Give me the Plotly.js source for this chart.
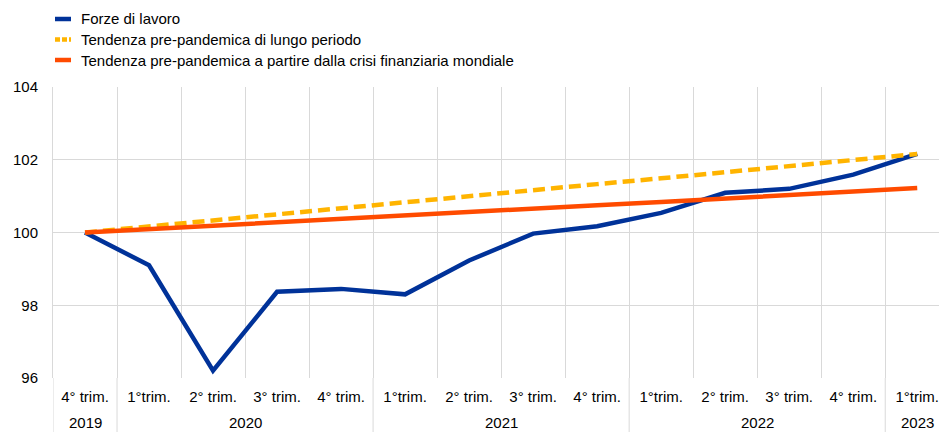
<!DOCTYPE html>
<html>
<head>
<meta charset="utf-8">
<script src="https://cdn.plot.ly/plotly-3.0.1.min.js"></script>
<style>html,body{margin:0;padding:0;background:#fff;}#chart{width:939px;height:432px;}</style>
</head>
<body>
<div id="chart"></div>
<script>
// Category labels (two-level x axis)
const years = ["2019","2020","2020","2020","2020","2021","2021","2021","2021","2022","2022","2022","2022","2023"];
const quarters = ["4° trim.","1°trim.","2° trim.","3° trim.","4° trim.","1°trim.","2° trim.","3° trim.","4° trim.","1°trim.","2° trim.","3° trim.","4° trim.","1°trim."];

// Series names
const nameLabour = "Forze di lavoro";
const nameLongTrend = "Tendenza pre-pandemica di lungo periodo";
const nameGfcTrend = "Tendenza pre-pandemica a partire dalla crisi finanziaria mondiale";

// Values (index, 2019 Q4 = 100)
const labourForce = [100.0, 99.1, 96.2, 98.37, 98.45, 98.3, 99.23, 99.97, 100.17, 100.54, 101.09, 101.2, 101.59, 102.16];
const longTrend   = [100.0, 100.17, 100.33, 100.50, 100.66, 100.83, 101.00, 101.16, 101.33, 101.49, 101.66, 101.83, 101.99, 102.16];
const gfcTrend    = [100.0, 100.09, 100.19, 100.28, 100.38, 100.47, 100.56, 100.66, 100.75, 100.84, 100.94, 101.03, 101.13, 101.22];

// Y ticks
const yTicks = [96, 98, 100, 102, 104];

// ---- derived positions (category index on the axis) ----
const idx = quarters.map((_, i) => i);
const boundaries = idx.slice(1).map(i => i - 0.5);
// year groups
const groups = [];
years.forEach((y, i) => {
  if (!groups.length || groups[groups.length - 1].year !== y) groups.push({year: y, start: i, end: i});
  else groups[groups.length - 1].end = i;
});

const W = 939, H = 432, M = {l: 53, r: 0, t: 87, b: 54};
const pw = W - M.l - M.r, ph = H - M.t - M.b;
const px2x = px => (px - M.l) / pw;
const py2y = py => (H - M.b - py) / ph;

const font = {family: "Liberation Sans, Arial, sans-serif", size: 15, color: "#000"};
const gridColor = "#d9d9d9";

const colors = {labour: "#003299", long: "#ffb400", gfc: "#ff4b00"};

const traces = [
  {x: idx, y: labourForce, name: nameLabour, type: "scatter", mode: "lines",
   line: {color: colors.labour, width: 4.5}, showlegend: false},
  {x: idx, y: longTrend, name: nameLongTrend, type: "scatter", mode: "lines",
   line: {color: colors.long, width: 4.5, dash: "12px,6px"}, showlegend: false},
  {x: idx, y: gfcTrend, name: nameGfcTrend, type: "scatter", mode: "lines",
   line: {color: colors.gfc, width: 4.5}, showlegend: false}
];

const shapes = [];
const annotations = [];

// group dividers through the label area
const divs = [-0.5].concat(groups.slice(1).map(g => g.start - 0.5));
divs.forEach(d => shapes.push({type: "line", xref: "x", yref: "paper", x0: d, x1: d,
  y0: 0, y1: py2y(H), line: {color: gridColor, width: 1}, layer: "below"}));

// year labels
groups.forEach(g => annotations.push({xref: "x", yref: "paper", x: (g.start + g.end) / 2, y: py2y(422),
  text: g.year, showarrow: false, xanchor: "center", yanchor: "middle", font: font}));

// custom legend
const legendItems = [
  {name: nameLabour, color: colors.labour, dash: "solid", py: 19},
  {name: nameLongTrend, color: colors.long, dash: "5px,2px", py: 39.5},
  {name: nameGfcTrend, color: colors.gfc, dash: "solid", py: 60}
];
legendItems.forEach(it => {
  shapes.push({type: "line", xref: "paper", yref: "paper", x0: px2x(55), x1: px2x(71),
    y0: py2y(it.py), y1: py2y(it.py), line: {color: it.color, width: 4.5, dash: it.dash}});
  annotations.push({xref: "paper", yref: "paper", x: px2x(79), y: py2y(it.py), text: it.name,
    showarrow: false, xanchor: "left", yanchor: "middle", font: font});
});

const layout = {
  width: W, height: H,
  margin: M,
  paper_bgcolor: "#fff", plot_bgcolor: "#fff",
  font: font,
  showlegend: false,
  xaxis: {
    type: "linear",
    range: [-0.5, 13.34],
    tickvals: idx, ticktext: quarters,
    showgrid: false, showline: false, zeroline: false,
    minor: {tickvals: boundaries, showgrid: true, gridcolor: gridColor, gridwidth: 1, ticks: ""},
    ticks: "", ticklabelstandoff: 8, tickfont: font
  },
  yaxis: {
    range: [96, 104],
    tickvals: yTicks,
    ticktext: yTicks.map(String),
    showgrid: true, gridcolor: gridColor, gridwidth: 1,
    zeroline: false, showline: true, linecolor: gridColor, linewidth: 1,
    ticks: "", ticklabelstandoff: 11, tickfont: font
  },
  shapes: shapes,
  annotations: annotations
};

Plotly.newPlot("chart", traces, layout, {displayModeBar: false, staticPlot: true});
</script>
</body>
</html>
